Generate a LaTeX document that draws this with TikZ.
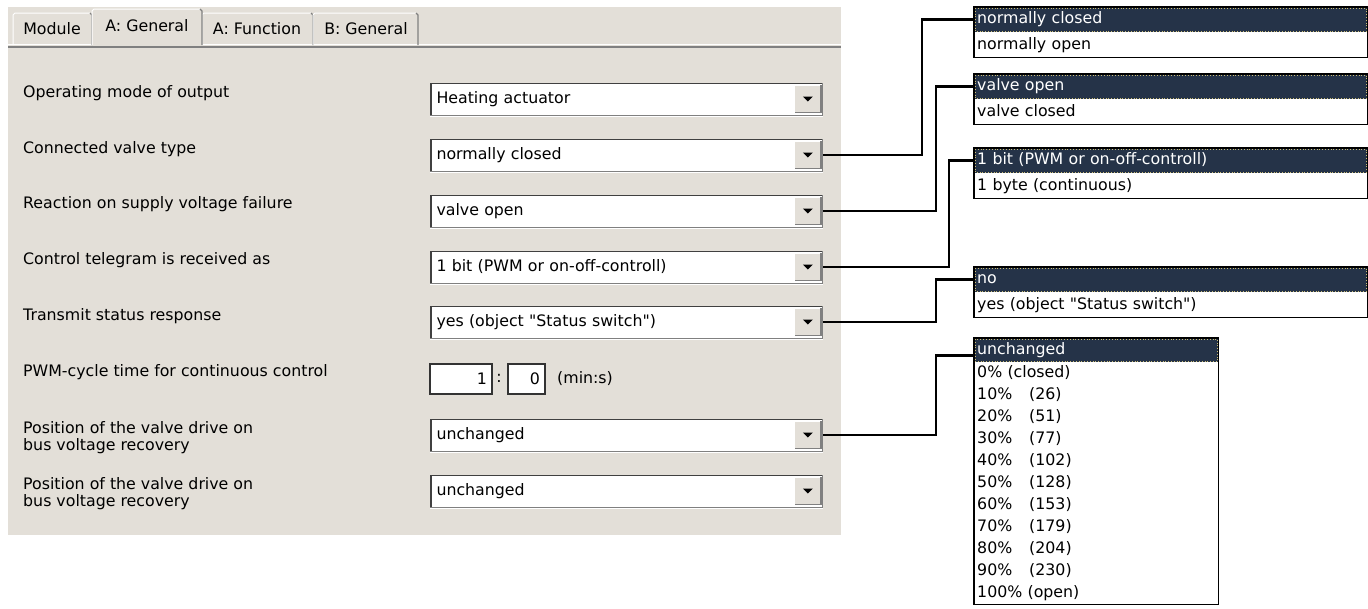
\documentclass[tikz,border=0pt]{standalone}
\usepackage{fontspec}
\setmainfont{DejaVu Sans}[Ligatures=TeXOff]
\usepackage{tikz}
\usetikzlibrary{positioning, calc}
\definecolor{wnFace}{RGB}{227,223,216}
\definecolor{wnShadow}{RGB}{128,128,128}
\definecolor{wnDark}{RGB}{64,64,64}
\definecolor{wnNavy}{RGB}{37,51,72}
\definecolor{wnDot}{RGB}{205,190,120}

\begin{document}
\begin{tikzpicture}[
    x=1pt, y=-1pt,
    font=\fontsize{15.8}{17}\selectfont,
    lbl/.style={anchor=west, align=left, inner sep=0pt},
    tab/.style={inner sep=0pt},
    combo/.style={anchor=west, fill=white, draw=wnShadow, line width=1pt,
                  text width=380pt, inner xsep=6pt, minimum height=32pt,
                  align=left},
    btn/.style={anchor=east, fill=wnFace, minimum width=26pt,
                minimum height=27pt, inner sep=0pt},
    edit/.style={fill=white, draw=black!80, line width=1.3pt,
                 minimum height=30pt, align=right, inner xsep=5pt},
    item/.style={anchor=north west, fill=white, inner xsep=3pt,
                 inner ysep=0pt, align=left, text width=#1,
                 minimum height=25pt, text height=11.5pt, text depth=3pt},
    item/.default=387pt,
    hl/.style={item=#1, fill=wnNavy, text=white},
    hl/.default=387pt,
    focus/.style={draw=wnDot, dotted, line width=0.8pt},
    lst/.style={draw=black, line width=1.2pt},
    wire/.style={draw=black, line width=2.6pt}
]
\useasboundingbox (0,0) rectangle (1368,608);

% dialog
\fill[wnFace] (8,7) rectangle (841,535);
\draw[white, line width=1pt] (8,44) -- (841,44);
\draw[wnShadow, line width=2pt] (8,47) -- (841,47);
\foreach \a/\b in {13/92, 202/313, 313/418}{
  \draw[white, line width=1pt] (\a,45) -- (\a,15) -- ({\a+2},13) -- ({\b-2},13);
  \draw[wnShadow, line width=1.2pt] ({\b-2},13) -- (\b,15) -- (\b,45);
}
\fill[wnFace] (92,9) rectangle (202,45);
\draw[white, line width=1pt] (92,45) -- (92,11) -- (94,9) -- (200,9);
\draw[wnShadow, line width=1.2pt] (200,9) -- (202,11) -- (202,45);

\node[tab] (t1) at (52,29)  {Module};
\node[tab] (t2) at (147,26) {A: General};
\node[tab] (t3) at (257,29) {A: Function};
\node[tab] (t4) at (366,29) {B: General};

\node[lbl] (l1) at (23,93)  {Operating mode of output};
\node[lbl] (l2) at (23,149) {Connected valve type};
\node[lbl] (l3) at (23,204) {Reaction on supply voltage failure};
\node[lbl] (l4) at (23,260) {Control telegram is received as};
\node[lbl] (l5) at (23,316) {Transmit status response};
\node[lbl] (l6) at (23,372) {PWM-cycle time for continuous control};
\node[lbl] (l7) at (23,438) {Position of the valve drive on\\bus voltage recovery};
\node[lbl] (l8) at (23,494) {Position of the valve drive on\\bus voltage recovery};

\node[combo] (c1) at (430,99)  {Heating actuator};
\node[combo] (c2) at (430,155) {normally closed};
\node[combo] (c3) at (430,211) {valve open};
\node[combo] (c4) at (430,267) {1 bit (PWM or on-off-controll)};
\node[combo] (c5) at (430,322) {yes (object "Status switch")};
\node[combo] (c7) at (430,435) {unchanged};
\node[combo] (c8) at (430,491) {unchanged};

\foreach \n in {c1,c2,c3,c4,c5,c7,c8}{
  \draw[wnDark, line width=1.5pt] ([shift={(1,-1)}]\n.south west)
    -- ([shift={(1,1)}]\n.north west) -- ([shift={(-1,1)}]\n.north east);
  \draw[white, line width=1pt] ([shift={(0,1)}]\n.south west)
    -- ([shift={(0,1)}]\n.south east);
  \node[btn] (b\n) at ([xshift=-2pt]\n.east) {};
  \draw[white, line width=1pt] (b\n.south west) -- (b\n.north west) -- (b\n.north east);
  \draw[wnShadow, line width=1.2pt] (b\n.north east) -- (b\n.south east) -- (b\n.south west);
  \fill ([shift={(-5,-2.5)}]b\n.center) -- ++(10,0) -- ++(-5,5) -- cycle;
}

\node[edit, minimum width=62pt, text width=52pt] (e1) at (461,379) {1};
\node[tab] (col) at (499,378) {:};
\node[edit, minimum width=37pt, text width=27pt] (e2) at (526.5,379) {0};
\node[lbl] (unit) at (557,379) {(min:s)};

% drop-down lists
\node[hl]   (d1)  at (974,7)          {normally closed};
\node[item] (d1x) at (d1.south west)  {normally open};
\node[hl]   (d2)  at (974,74)         {valve open};
\node[item] (d2x) at (d2.south west)  {valve closed};
\node[hl]   (d3)  at (974,148)        {1 bit (PWM or on-off-controll)};
\node[item] (d3x) at (d3.south west)  {1 byte (continuous)};
\node[hl]   (d4)  at (974,267)        {no};
\node[item] (d4x) at (d4.south west)  {yes (object "Status switch")};

\node[hl=238pt, minimum height=24pt] (u0) at (974,338) {unchanged};
\node[item=238pt, minimum height=22pt] (uz) at (974,362) {0\% (closed)};
\foreach \p/\v [count=\i] in {10/26, 20/51, 30/77, 40/102, 50/128,
                             60/153, 70/179, 80/204, 90/230}
  \node[item=238pt, minimum height=22pt] (u\i) at (974,{362+22*\i})
    {\makebox[52pt][l]{\p\%}(\v)};
\node[item=238pt, minimum height=22pt] (u10) at (974,582) {100\% (open)};

\foreach \n in {d1,d2,d3,d4,u0}
  \draw[focus] ([shift={(1,1)}]\n.north west) rectangle ([shift={(-1,-1)}]\n.south east);
\draw[lst] (d1.north west) rectangle (d1x.south east);
\draw[lst] (d2.north west) rectangle (d2x.south east);
\draw[lst] (d3.north west) rectangle (d3x.south east);
\draw[lst] (d4.north west) rectangle (d4x.south east);
\draw[lst] (u0.north west) rectangle (u10.south east);

% connectors
\coordinate (k1) at (922,0);
\coordinate (k2) at (936,0);
\coordinate (k3) at (949,0);
\coordinate (k4) at (936,0);
\coordinate (k5) at (936,0);
\draw[wire] (c2.east) -- (c2.east -| k1) |- (d1.west);
\draw[wire] (c3.east) -- (c3.east -| k2) |- (d2.west);
\draw[wire] (c4.east) -- (c4.east -| k3) |- (d3.west);
\draw[wire] (c5.east) -- (c5.east -| k4) |- (d4.west);
\draw[wire] (c7.east) -- (c7.east -| k5) |- ([yshift=-5pt]u0.west);
\end{tikzpicture}
\end{document}
